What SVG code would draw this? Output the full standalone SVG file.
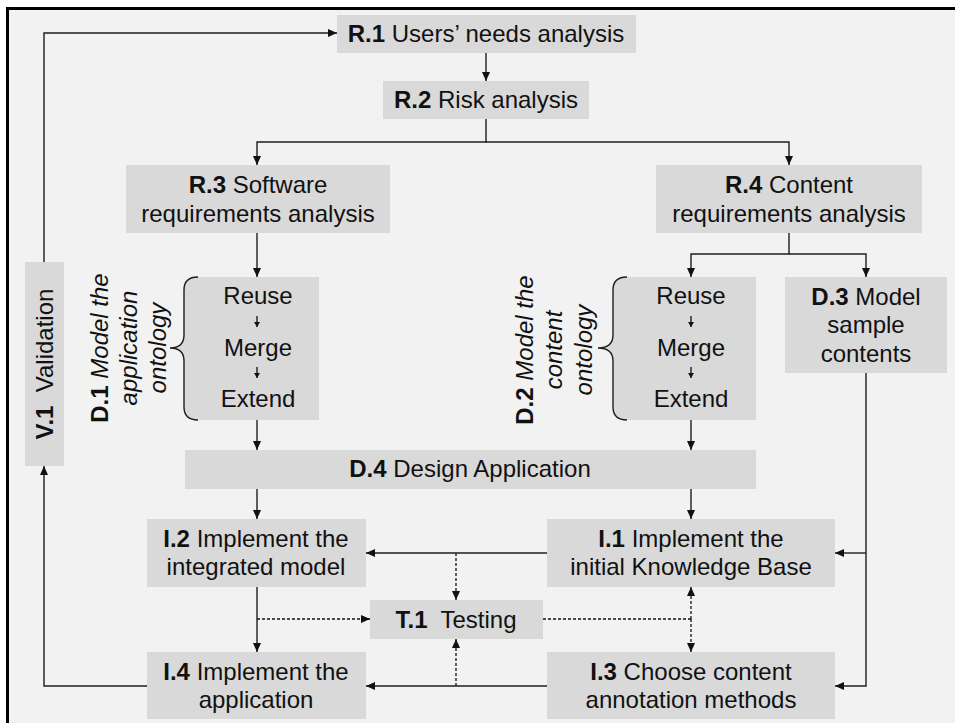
<svg xmlns="http://www.w3.org/2000/svg" width="955" height="723" viewBox="0 0 955 723">
  <style>
    text { font-family: "Liberation Sans", Arial, sans-serif; font-size: 24px; fill: #111; }
    .c { text-anchor: middle; }
    .b { font-weight: bold; }
    .i { font-style: italic; }
    .box { fill: #d9d9d9; }
    .ln { fill: none; stroke: #1e1e1e; stroke-width: 1.4; }
    .dash { fill: none; stroke: #111; stroke-width: 1.3; stroke-dasharray: 3 2; }
    .brace { fill: none; stroke: #1e1e1e; stroke-width: 1.4; }
  </style>
  <defs>
    <marker id="arr" markerUnits="userSpaceOnUse" markerWidth="9" markerHeight="8" refX="9" refY="4" orient="auto">
      <path d="M0,0 L9,4 L0,8 Z" fill="#111"/>
    </marker>
    <marker id="arrS" markerUnits="userSpaceOnUse" markerWidth="5" markerHeight="6" refX="5" refY="3" orient="auto">
      <path d="M0,0 L5,3 L0,6 Z" fill="#111"/>
    </marker>
  </defs>

  <!-- canvas and frame -->
  <rect x="0" y="0" width="955" height="723" fill="#ffffff"/>
  <rect x="7.5" y="8.5" width="1000" height="800" fill="#f2f2f2" stroke="#000" stroke-width="3"/>

  <!-- connectors -->
  <g id="connectors">
    <!-- validation loop -->
    <path class="ln" d="M44,262 V33 H337" marker-end="url(#arr)"/>
    <path class="ln" d="M147,686 H44 V466" marker-end="url(#arr)"/>
    <!-- requirements -->
    <path class="ln" d="M486,53 V81" marker-end="url(#arr)"/>
    <path class="ln" d="M486,119 V142 H257 V165" marker-end="url(#arr)"/>
    <path class="ln" d="M486,142 H789 V165" marker-end="url(#arr)"/>
    <path class="ln" d="M257,233 V277" marker-end="url(#arr)"/>
    <path class="ln" d="M789,233 V254 H691 V277" marker-end="url(#arr)"/>
    <path class="ln" d="M789,254 H866 V277" marker-end="url(#arr)"/>
    <!-- design -->
    <path class="ln" d="M257,420 V450" marker-end="url(#arr)"/>
    <path class="ln" d="M691,420 V450" marker-end="url(#arr)"/>
    <path class="ln" d="M257,489 V519" marker-end="url(#arr)"/>
    <path class="ln" d="M691,489 V519" marker-end="url(#arr)"/>
    <!-- sample contents feed -->
    <path class="ln" d="M866,373 V686 H835" marker-end="url(#arr)"/>
    <path class="ln" d="M866,553 H835" marker-end="url(#arr)"/>
    <!-- implementation -->
    <path class="ln" d="M547,553 H366" marker-end="url(#arr)"/>
    <path class="ln" d="M547,686 H366" marker-end="url(#arr)"/>
    <path class="ln" d="M257,587 V652" marker-end="url(#arr)"/>
    <!-- testing -->
    <path class="dash" d="M456,553 V600" marker-end="url(#arr)"/>
    <path class="dash" d="M456,686 V639" marker-end="url(#arr)"/>
    <path class="dash" d="M257,619 H370" marker-end="url(#arr)"/>
    <path class="dash" d="M543,619 H691"/>
    <path class="dash" d="M691,619 V587" marker-end="url(#arr)"/>
    <path class="dash" d="M691,619 V652" marker-end="url(#arr)"/>
  </g>

  <g id="R1">
    <rect class="box" x="337" y="15" width="299" height="38"/>
    <text class="c" x="486" y="42"><tspan class="b">R.1</tspan> Users’ needs analysis</text>
  </g>
  <g id="R2">
    <rect class="box" x="383" y="81" width="206" height="38"/>
    <text class="c" x="486" y="108"><tspan class="b">R.2</tspan> Risk analysis</text>
  </g>
  <g id="R3">
    <rect class="box" x="126" y="165" width="264" height="68"/>
    <text class="c" x="258" y="193"><tspan class="b">R.3</tspan> Software</text>
    <text class="c" x="258" y="222">requirements analysis</text>
  </g>
  <g id="R4">
    <rect class="box" x="656" y="165" width="266" height="68"/>
    <text class="c" x="789" y="193"><tspan class="b">R.4</tspan> Content</text>
    <text class="c" x="789" y="222">requirements analysis</text>
  </g>
  <g id="V1">
    <rect class="box" x="25" y="262" width="39" height="204"/>
    <text class="c" transform="translate(53,364) rotate(-90)"><tspan class="b">V.1</tspan>&#160; Validation</text>
  </g>
  <g id="D1">
    <path class="box" d="M198,277 H319 V420 H198 Q184,420 184,407 V361 Q184,348 170,348 Q184,348 184,335 V290 Q184,277 198,277 Z"/>
    <path class="brace" d="M198,277 Q184,277 184,290 V335 Q184,348 170,348 Q184,348 184,361 V407 Q184,420 198,420"/>
    <text class="c" x="258" y="304">Reuse</text>
    <text class="c" x="258" y="356">Merge</text>
    <text class="c" x="258" y="407">Extend</text>
    <path class="ln" d="M257,316 V327" marker-end="url(#arrS)"/>
    <path class="ln" d="M257,367 V378" marker-end="url(#arrS)"/>
    <text class="c" transform="translate(108,348) rotate(-90)"><tspan class="b">D.1</tspan> <tspan class="i">Model the</tspan></text>
    <text class="c i" transform="translate(137,348) rotate(-90)">application</text>
    <text class="c i" transform="translate(166,348) rotate(-90)">ontology</text>
  </g>
  <g id="D2">
    <path class="box" d="M627,277 H756 V420 H627 Q613,420 613,407 V361 Q613,348 598,348 Q613,348 613,335 V290 Q613,277 627,277 Z"/>
    <path class="brace" d="M627,277 Q613,277 613,290 V335 Q613,348 598,348 Q613,348 613,361 V407 Q613,420 627,420"/>
    <text class="c" x="691" y="304">Reuse</text>
    <text class="c" x="691" y="356">Merge</text>
    <text class="c" x="691" y="407">Extend</text>
    <path class="ln" d="M691,316 V327" marker-end="url(#arrS)"/>
    <path class="ln" d="M691,367 V378" marker-end="url(#arrS)"/>
    <text class="c" transform="translate(533,350) rotate(-90)"><tspan class="b">D.2</tspan> <tspan class="i">Model the</tspan></text>
    <text class="c i" transform="translate(562,350) rotate(-90)">content</text>
    <text class="c i" transform="translate(592,350) rotate(-90)">ontology</text>
  </g>
  <g id="D3">
    <rect class="box" x="785" y="277" width="162" height="96"/>
    <text class="c" x="866" y="305"><tspan class="b">D.3</tspan> Model</text>
    <text class="c" x="866" y="333">sample</text>
    <text class="c" x="866" y="362">contents</text>
  </g>
  <g id="D4">
    <rect class="box" x="185" y="450" width="571" height="39"/>
    <text class="c" x="470" y="477"><tspan class="b">D.4</tspan> Design Application</text>
  </g>
  <g id="I2">
    <rect class="box" x="147" y="519" width="219" height="68"/>
    <text class="c" x="256" y="547"><tspan class="b">I.2</tspan> Implement the</text>
    <text class="c" x="256" y="575">integrated model</text>
  </g>
  <g id="I1">
    <rect class="box" x="547" y="519" width="288" height="68"/>
    <text class="c" x="691" y="547"><tspan class="b">I.1</tspan> Implement the</text>
    <text class="c" x="691" y="575">initial Knowledge Base</text>
  </g>
  <g id="T1">
    <rect class="box" x="370" y="600" width="173" height="39"/>
    <text class="c" x="456" y="628"><tspan class="b">T.1</tspan>&#160; Testing</text>
  </g>
  <g id="I4">
    <rect class="box" x="147" y="652" width="219" height="67"/>
    <text class="c" x="256" y="680"><tspan class="b">I.4</tspan> Implement the</text>
    <text class="c" x="256" y="708">application</text>
  </g>
  <g id="I3">
    <rect class="box" x="547" y="652" width="288" height="67"/>
    <text class="c" x="691" y="680"><tspan class="b">I.3</tspan> Choose content</text>
    <text class="c" x="691" y="708">annotation methods</text>
  </g>
</svg>
